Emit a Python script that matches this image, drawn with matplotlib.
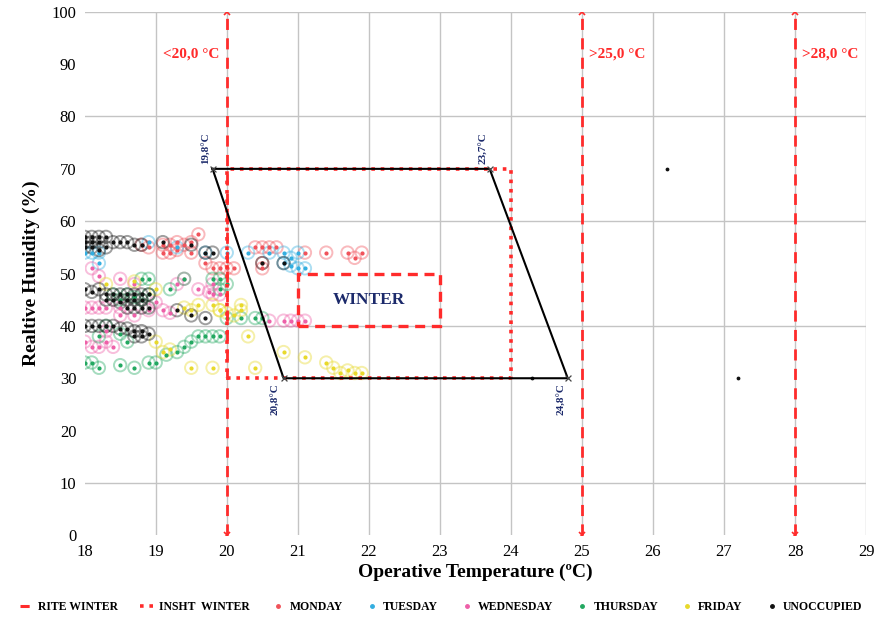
import matplotlib
matplotlib.use("Agg")
import matplotlib.pyplot as plt
from matplotlib.lines import Line2D
from matplotlib.patches import Rectangle

# ---- data ----
mon_t = [19.1, 19.2, 19.3, 19.4, 19.5, 19.1, 19.2, 19.3, 19.5, 19.6, 19.7, 19.8, 19.9,
         20.0, 20.1, 20.4, 20.5, 20.6, 20.7, 20.5, 20.5, 21.1, 21.4, 21.7, 21.8, 21.9,
         18.8, 18.9]
mon_rh = [55.5, 55.5, 56, 55.5, 56, 54, 54, 54.5, 54, 57.5, 52, 51, 51,
          51, 51, 55, 55, 55, 55, 52, 51, 54, 54, 54, 53, 54,
          55.5, 55]

tue_t = [18.0, 18.1, 18.2, 18.2, 18.9, 19.3, 19.7, 20.0, 20.3, 20.6, 20.8, 20.9, 21.0,
         20.8, 20.9, 21.0, 21.1]
tue_rh = [54, 54, 54, 52, 56, 55, 54, 54, 54, 54, 54, 53, 54,
          52, 51.5, 51, 51]

wed_t = [18.1, 18.2, 18.5, 18.7, 19.3, 19.4, 19.6, 19.8, 19.9, 18.0, 18.1, 18.2, 18.3,
         18.5, 18.5, 18.7, 18.9, 19.1, 19.2, 18.0, 18.1, 18.2, 18.3, 18.3, 19.75, 19.8,
         20.6, 20.8, 20.9, 21.0, 21.1, 18.4, 19.0]
wed_rh = [51, 49.5, 49, 48, 48, 49, 47, 46, 46, 43.5, 43.5, 43.5, 43.5,
          43.5, 42, 42, 43, 43, 42.5, 37, 36, 36, 37, 39, 46.5, 48,
          41, 41, 41, 41, 41, 36, 44.5]

thu_t = [18.0, 18.1, 18.2, 18.5, 18.7, 18.9, 19.0, 19.15, 19.3, 19.4, 19.5, 19.6, 19.7,
         19.8, 19.9, 18.4, 18.5, 18.6, 18.7, 18.8, 18.9, 18.8, 18.9, 19.4, 19.2, 19.9,
         19.9, 20.0, 18.5, 18.6, 20.0, 20.2, 20.4, 20.5, 19.8, 18.3, 18.2]
thu_rh = [33, 33, 32, 32.5, 32, 33, 33, 34.5, 35, 36, 37, 38, 38,
          38, 38, 46, 45, 46, 45.5, 45, 46, 49, 49, 49, 47, 47,
          49, 48, 38.5, 37, 41.5, 41.5, 41.5, 41.5, 49, 40, 38]

fri_t = [18.3, 18.7, 19.0, 19.4, 19.5, 19.6, 19.8, 19.9, 20.2, 19.0, 19.1, 19.2, 19.5,
         19.8, 20.4, 19.9, 20.0, 20.3, 20.8, 21.1, 21.4, 21.5, 21.6, 21.7, 21.8, 21.9,
         20.1, 20.2]
fri_rh = [48, 48.5, 47, 43.5, 43, 44, 44, 43, 44, 37, 35, 35.5, 32,
          32, 32, 43, 42.5, 38, 35, 34, 33, 32, 31, 31.5, 31, 31,
          42, 43]

unocc_t = [18.0, 18.1, 18.2, 18.3, 18.4, 18.0, 18.1, 18.2, 18.3, 18.0, 18.1, 18.2,
           18.5, 18.6, 18.7, 18.8, 19.1, 19.5, 19.7, 19.8, 20.5, 20.8,
           18.0, 18.1, 18.2, 18.3, 18.4, 18.5, 18.6, 18.7, 18.8, 18.9,
           18.3, 18.4, 18.5, 18.6, 18.7, 18.8, 18.6, 18.7, 18.8, 18.9, 19.3, 19.5, 19.7,
           18.0, 18.1, 18.2, 18.3, 18.4, 18.5, 18.6, 18.7, 18.8, 18.9, 18.7, 18.8]
unocc_rh = [57, 57, 57, 57, 56, 56, 56, 56, 55, 55, 55, 54.5,
            56, 56, 55.5, 55.5, 56, 55.5, 54, 54, 52, 52,
            47, 46.5, 47, 46, 46, 46, 46, 46, 46, 46,
            45, 45, 44.5, 45, 45, 45, 43.5, 43.5, 43.5, 43.5, 43, 42, 41.5,
            40, 40, 40, 40, 40, 39.5, 39.5, 39, 39, 38.5, 38, 38]
# isolated unoccupied readings (plain dots, no ring)
unocc_far_t = [24.3, 26.2, 27.2]
unocc_far_rh = [30, 70, 30]

# comfort zone limits
rite_limits = [20, 25, 28]
rite_labels = ["<20,0 °C", ">25,0 °C", ">28,0 °C"]
insht_t = [20, 24]
insht_rh = [30, 70]
zone_t = [19.8, 23.7, 24.8, 20.8, 19.8]
zone_rh = [70, 70, 30, 30, 70]
zone_labels = ["19,8°C", "23,7°C", "24,8°C", "20,8°C"]
winter_t = [21, 23]
winter_rh = [40, 50]

series = [
    ("MONDAY", mon_t, mon_rh, "#f0525a"),
    ("TUESDAY", tue_t, tue_rh, "#33aee0"),
    ("WEDNESDAY", wed_t, wed_rh, "#ee5fa8"),
    ("THURSDAY", thu_t, thu_rh, "#22a860"),
    ("FRIDAY", fri_t, fri_rh, "#e8d92a"),
    ("UNOCCUPIED", unocc_t, unocc_rh, "#111111"),
]

plt.rcParams["font.family"] = ["Liberation Serif", "DejaVu Serif"]
red = "#ff2b2b"
navy = "#1c2a6b"

fig = plt.figure(figsize=(8.82, 6.21), dpi=100)
ax = fig.add_axes([0.096, 0.138, 0.886, 0.843])

# grid
for x in range(19, 30):
    ax.axvline(x, color="#c4c4c4", lw=1, zorder=0)
for y in [10, 40, 60, 80, 100]:
    ax.axhline(y, color="#c4c4c4", lw=1, zorder=0)

# scatter: faint ring plus a small dot
for name, t, rh, c in series:
    ax.scatter(t, rh, s=80, facecolors="none", edgecolors=c, linewidths=1.4,
               alpha=0.4, zorder=2)
    ax.scatter(t, rh, s=4, color=c, zorder=3)
ax.scatter(unocc_far_t, unocc_far_rh, s=3, color="#111111", zorder=3)

# RITE limits
for x, lab in zip(rite_limits, rite_labels):
    ax.plot([x, x], [0, 100], color=red, lw=2, dashes=(4, 3), zorder=4,
            marker="x", ms=5, mew=1.2)
    if x == 20:
        ax.text(x - 0.1, 92, lab, color=red, fontsize=11, fontweight="bold",
                ha="right", va="center")
    else:
        ax.text(x + 0.1, 92, lab, color=red, fontsize=11, fontweight="bold",
                ha="left", va="center")

# INSHT rectangle
ax.plot([insht_t[0], insht_t[1], insht_t[1], insht_t[0], insht_t[0]],
        [insht_rh[0], insht_rh[0], insht_rh[1], insht_rh[1], insht_rh[0]],
        color=red, lw=2.6, ls=(0, (1, 1.6)), zorder=4)

# comfort polygon
ax.plot(zone_t, zone_rh, color="black", lw=1.5, zorder=5)
ax.scatter(zone_t[:4], zone_rh[:4], marker="x", s=18, color="#444444",
           linewidths=0.9, zorder=6)
ax.text(19.7, 71, zone_labels[0], rotation=90, color=navy, fontsize=8,
        fontweight="bold", ha="center", va="bottom")
ax.text(23.6, 71, zone_labels[1], rotation=90, color=navy, fontsize=8,
        fontweight="bold", ha="center", va="bottom")
ax.text(24.7, 29, zone_labels[2], rotation=90, color=navy, fontsize=8,
        fontweight="bold", ha="center", va="top")
ax.text(20.68, 29, zone_labels[3], rotation=90, color=navy, fontsize=8,
        fontweight="bold", ha="center", va="top")

# WINTER box
ax.add_patch(Rectangle((winter_t[0], winter_rh[0]), winter_t[1] - winter_t[0],
                       winter_rh[1] - winter_rh[0], fill=False, edgecolor=red,
                       lw=2.4, ls=(0, (3, 2)), zorder=4))
ax.text(sum(winter_t) / 2, sum(winter_rh) / 2, "WINTER", color=navy,
        fontsize=12.5, fontweight="bold", ha="center", va="center", zorder=6)

ax.set_xlim(18, 29)
ax.set_ylim(0, 100)
ax.set_xticks(range(18, 30))
ax.set_yticks(range(0, 101, 10))
ax.tick_params(length=0, labelsize=12, pad=6)
for s in ax.spines.values():
    s.set_visible(False)
ax.set_xlabel("Operative Temperature (ºC)", fontsize=14, fontweight="bold",
              labelpad=3)
ax.set_ylabel("Realtive Hunidity (%)", fontsize=14, fontweight="bold",
              labelpad=8)

handles = [Line2D([], [], color=red, lw=2.2, dashes=(3, 2)),
           Line2D([], [], color=red, lw=2.6, ls=(0, (1, 1.6)))]
labels = ["RITE WINTER", "INSHT  WINTER"]
for name, t, rh, c in series:
    handles.append(Line2D([], [], ls="none", marker="o", ms=2.5, color=c))
    labels.append(name)
fig.legend(handles, labels, loc="center", bbox_to_anchor=(0.5, 0.023), ncol=8,
           frameon=False, handlelength=1.3, handletextpad=0.3, columnspacing=1.8,
           prop={"size": 8.5, "weight": "bold", "family": "Liberation Serif"})

fig.savefig("out.png", dpi=100)
